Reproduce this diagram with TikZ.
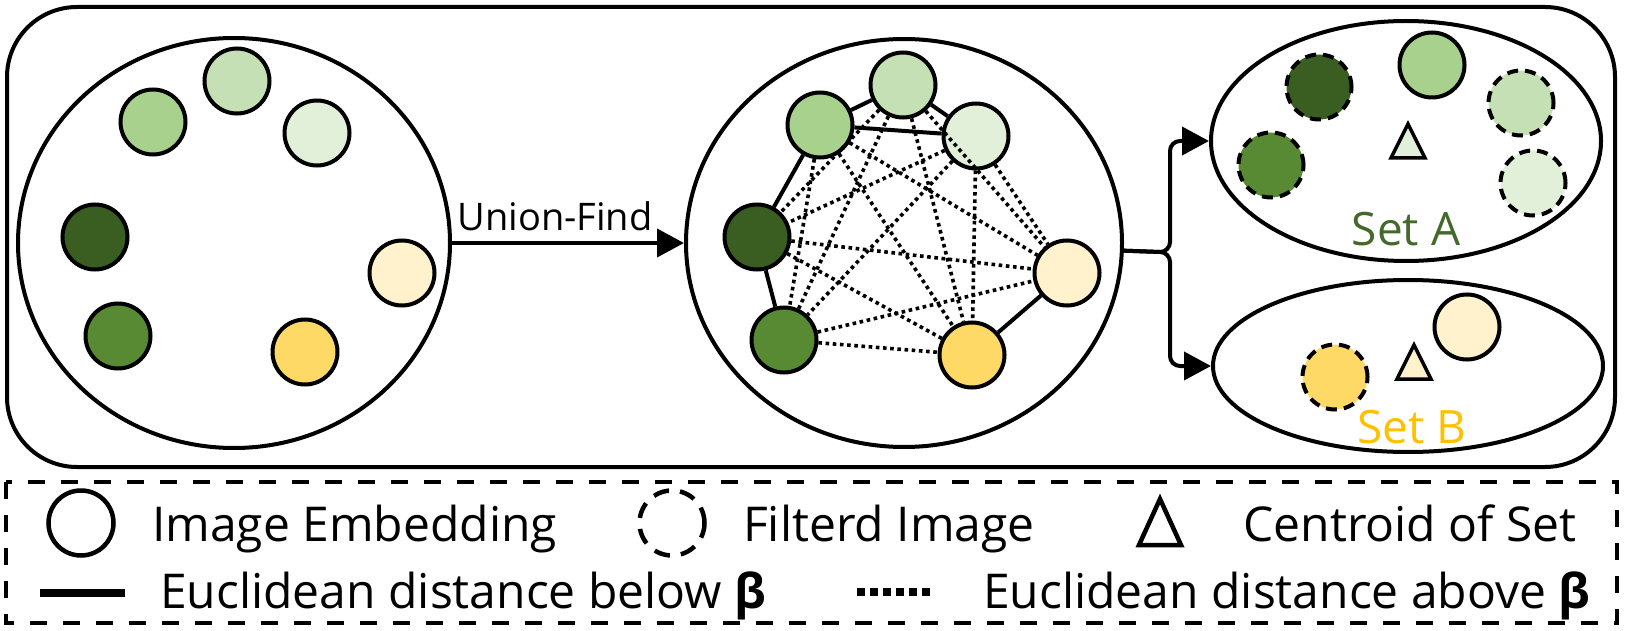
\documentclass[tikz,border=0pt]{standalone}
\usepackage{fontspec}
\setmainfont{Open Sans}
\usetikzlibrary{arrows.meta,shapes.geometric}
\definecolor{gdark}{HTML}{3A5E22}
\definecolor{gmid}{HTML}{578A33}
\definecolor{gA}{HTML}{A9D18E}
\definecolor{gB}{HTML}{C5E0B4}
\definecolor{gC}{HTML}{E2F0D9}
\definecolor{yel}{HTML}{FFD966}
\definecolor{lyel}{HTML}{FFF2CC}
\definecolor{setAcol}{HTML}{43692B}
\definecolor{setBcol}{HTML}{FFC000}
\tikzset{
  emb/.style={circle,draw=black,line width=4pt,minimum size=65pt,inner sep=0pt},
  filt/.style={emb,dash pattern=on 11pt off 7pt},
  bigell/.style={ellipse,draw=black,line width=4pt,inner sep=0pt},
  solidedge/.style={line width=4pt},
  dotedge/.style={line width=3.6pt,dash pattern=on 3.6pt off 3.6pt},
  arr/.style={line width=4pt,-{Triangle[length=27pt,width=28pt]}},
  lbl/.style={font=\fontsize{48}{56}\selectfont,inner sep=0pt},
  setlbl/.style={font=\fontsize{46}{54}\selectfont,inner sep=0pt},
  cent/.style={line width=3.5pt,line join=miter}
}
\begin{document}
\begin{tikzpicture}[x=1pt,y=-1pt]
\useasboundingbox (0,0) rectangle (1625,631);
% outer frame
\draw[line width=4pt,rounded corners=70pt] (7,7) rectangle (1615,467);
% legend frame
\draw[line width=4.5pt,dash pattern=on 17pt off 16pt] (6,482) rectangle (1617,623);

% big ellipses
\node[bigell,minimum width=432pt,minimum height=410pt] (E1) at (234,243) {};
\node[bigell,minimum width=436pt,minimum height=408pt] (E2) at (904,243) {};
\node[bigell,minimum width=390pt,minimum height=240pt] (SA) at (1406,141) {};
\node[bigell,minimum width=390pt,minimum height=172pt] (SB) at (1408,366) {};

% left cluster
\node[emb,fill=gB] (l2) at (237,81) {};
\node[emb,fill=gA] (l1) at (153,122) {};
\node[emb,fill=gC] (l3) at (317,133) {};
\node[emb,fill=gdark] (ld) at (95,237) {};
\node[emb,fill=gmid] (lm) at (118,336) {};
\node[emb,fill=yel] (ly) at (305,352) {};
\node[emb,fill=lyel] (lly) at (402,273) {};

% middle cluster
\node[emb,fill=gA] (m1) at (820,125) {};
\node[emb,fill=gB] (m2) at (903,85) {};
\node[emb,fill=gC] (m3) at (976,136) {};
\node[emb,fill=gdark] (md) at (757,237) {};
\node[emb,fill=gmid] (mm) at (784,340) {};
\node[emb,fill=yel] (my) at (972,355) {};
\node[emb,fill=lyel] (mly) at (1067,273) {};

% solid edges
\foreach \a/\b in {m1/m2,m2/m3,m1/m3,m1/md,md/mm,my/mly}
  \draw[solidedge] (\a) -- (\b);
% dotted edges
\foreach \a/\b in {m1/mm,m1/my,m1/mly,m2/md,m2/mm,m2/my,m2/mly,m3/md,m3/mm,m3/my,m3/mly,md/my,md/mly,mm/my,mm/mly}
  \draw[dotedge] (\a) -- (\b);

% Union-Find arrow
\draw[arr] (E1.east) -- (E2.west);
\node[lbl,font=\fontsize{38}{46}\selectfont,anchor=base] (uf) at (555,230) {Union-Find};

% branching connector
\coordinate (br) at (1160,252);
\draw[arr] (E2.-2) -- (br) to[out=0,in=-90] (1170,242) -- (1170,151) to[out=90,in=180] (1180,141) -- (SA.west);
\draw[arr] (E2.-2) -- (br) to[out=0,in=90] (1170,262) -- (1170,356) to[out=-90,in=180] (1180,366) -- (SB.west);

% Set A
\node[filt,fill=gdark] (a1) at (1319,87) {};
\node[emb,fill=gA] (a2) at (1432,65) {};
\node[filt,fill=gB] (a3) at (1521,103) {};
\node[filt,fill=gmid] (a4) at (1271,165) {};
\node[filt,fill=gC] (a5) at (1533,183) {};
\draw[cent,fill=gC] (1391,158) -- (1408,124) -- (1425,158) -- cycle;
\node[setlbl,text=setAcol,anchor=base] (ta) at (1406,245) {Set A};

% Set B
\node[filt,fill=yel] (b1) at (1335,377) {};
\node[emb,fill=lyel] (b2) at (1467,327) {};
\draw[cent,fill=lyel] (1397,379) -- (1414,345) -- (1431,379) -- cycle;
\node[setlbl,text=setBcol,anchor=base] (tb) at (1412,443) {Set B};

% legend
\node[emb,line width=4.5pt] (k1) at (81,523) {};
\node[lbl,anchor=base west] (k1t) at (152,541) {Image Embedding};
\node[emb,line width=4.5pt,dash pattern=on 16pt off 11pt] (k2) at (672,523) {};
\node[lbl,anchor=base west] (k2t) at (743,541) {Filterd Image};
\draw[line width=4.5pt,line join=miter] (1139,545) -- (1160,499) -- (1181,545) -- cycle;
\node[lbl,anchor=base east] (k3t) at (1577,541) {Centroid of Set};
\draw[line width=8pt] (40,593) -- (125,593);
\node[lbl,anchor=base west] (k4t) at (160,608) {Euclidean distance below \textbf{β}};
\draw[line width=8pt,dash pattern=on 8pt off 5pt] (857,592) -- (931,592);
\node[lbl,anchor=base west] (k5t) at (983,608) {Euclidean distance above \textbf{β}};
\end{tikzpicture}
\end{document}
